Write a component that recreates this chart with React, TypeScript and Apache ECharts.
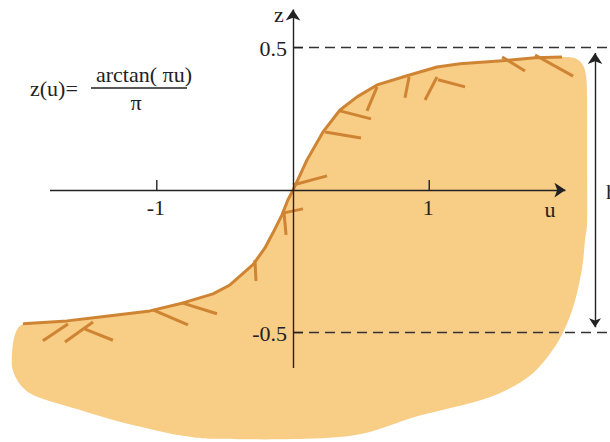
import React, { useEffect, useRef } from "react";
import * as echarts from "echarts";

// z(u) curve, hand-drawn profile (u, z)
const curveU = [-1.982, -1.659, -1.417, -1.05, -0.808, -0.587, -0.463, -0.294, -0.206, -0.147, -0.081, -0.037, 0, 0.103, 0.22, 0.345, 0.47, 0.617, 0.837, 1.057, 1.226, 1.535, 1.777, 1.975];
const curveZ = [-0.469, -0.459, -0.445, -0.424, -0.396, -0.364, -0.333, -0.262, -0.203, -0.15, -0.087, -0.034, 0, 0.106, 0.204, 0.281, 0.327, 0.369, 0.401, 0.432, 0.443, 0.454, 0.464, 0.467];

// outline of the shaded region below the curve (from the curve's right end, round to its left end)
const regionU = [2.063, 2.122, 2.151, 2.159, 2.159, 2.159, 2.144, 2.122, 2.07, 1.997, 1.902, 1.755, 1.557, 1.358, 1.065, 0.874, 0.507, 0.088, -0.558, -0.808, -1.05, -1.292, -1.542, -1.858, -1.982, -2.056, -2.063, -2.048, -2.019];
const regionZ = [0.464, 0.443, 0.401, 0.317, 0.106, -0.108, -0.175, -0.273, -0.389, -0.484, -0.564, -0.645, -0.704, -0.74, -0.775, -0.799, -0.855, -0.873, -0.873, -0.862, -0.838, -0.81, -0.775, -0.729, -0.694, -0.634, -0.575, -0.519, -0.484];

// hatch strokes under the curve: start and end points
const hatchStart = [[-1.836, -0.529], [-1.674, -0.533], [-1.527, -0.488], [-1.028, -0.42], [-0.815, -0.396], [-0.279, -0.245], [-0.066, -0.08], [-0.066, -0.08], [0, 0.018], [0.235, 0.204], [0.345, 0.278], [0.617, 0.362], [0.852, 0.397], [1.057, 0.397], [1.065, 0.387], [1.535, 0.467], [1.777, 0.474]];
const hatchEnd = [[-1.652, -0.47], [-1.468, -0.463], [-1.322, -0.527], [-0.771, -0.473], [-0.558, -0.434], [-0.272, -0.319], [-0.051, -0.157], [0.073, -0.066], [0.25, 0.05], [0.499, 0.183], [0.573, 0.25], [0.543, 0.278], [0.822, 0.324], [0.969, 0.316], [1.263, 0.362], [1.703, 0.418], [2.056, 0.4]];

const uTicks = [-1, 1];
const zTicks = [-0.5, 0.5];
const zLevels = [0.5, -0.5];

const uAxisFrom = -1.784;
const uAxisTo = 2.0;
const zAxisFrom = -0.624;
const zAxisTo = 0.634;
const dashEnd = 2.33;
const spanU = 2.217;
const spanZ = 0.481;

const INK = "#222222";
const CURVE = "#CF8433";
const FILL = "#F8CD86";
const SERIF = "Liberation Serif";
const FS = 22;

function catmullSegments(pts: number[][]): string {
  let d = "";
  for (let i = 0; i < pts.length - 1; i++) {
    const p0 = pts[Math.max(0, i - 1)];
    const p1 = pts[i];
    const p2 = pts[i + 1];
    const p3 = pts[Math.min(pts.length - 1, i + 2)];
    const c1x = p1[0] + (p2[0] - p0[0]) / 6;
    const c1y = p1[1] + (p2[1] - p0[1]) / 6;
    const c2x = p2[0] - (p3[0] - p1[0]) / 6;
    const c2y = p2[1] - (p3[1] - p1[1]) / 6;
    d += ` C${c1x},${c1y} ${c2x},${c2y} ${p2[0]},${p2[1]}`;
  }
  return d;
}

function textStyle(text: string, x: number, y: number, align: string) {
  return {
    text,
    x,
    y,
    fontFamily: SERIF,
    fontSize: FS,
    fill: INK,
    align,
    verticalAlign: "middle",
    textAlign: align,
    textVerticalAlign: "middle",
  };
}

function label(text: string, x: number, y: number, align: string) {
  return { type: "text", z: 10, style: textStyle(text, x, y, align) };
}

export default function App() {
  const ref = useRef<HTMLDivElement>(null);

  useEffect(() => {
    if (!ref.current) return;
    const chart = echarts.init(ref.current, null, { renderer: "svg" });

    const curveData = curveU.map((u, i) => [u, curveZ[i]]);

    const hiddenAxis = {
      type: "value",
      splitLine: { show: false },
      axisLine: { show: false },
      axisTick: { show: false },
      axisLabel: { show: false },
    };

    const option: any = {
      animation: false,
      grid: { left: 0, right: 0, top: 0, bottom: 0, containLabel: false, outerBoundsMode: "none" },
      xAxis: { ...hiddenAxis, min: -2.151, max: 2.327 },
      yAxis: { ...hiddenAxis, min: -0.884, max: 0.667 },
      series: [
        {
          // shaded region under the curve
          type: "custom",
          z: 1,
          silent: true,
          data: [[0, 0]],
          renderItem: (_params: any, api: any) => {
            const cp = curveData.map((p) => api.coord(p));
            const rp = regionU.map((u, i) => api.coord([u, regionZ[i]]));
            let d = `M${cp[0][0]},${cp[0][1]}`;
            for (let i = 1; i < cp.length; i++) d += ` L${cp[i][0]},${cp[i][1]}`;
            d += catmullSegments([cp[cp.length - 1], ...rp, cp[0]]);
            d += " Z";
            return {
              type: "path",
              shape: { pathData: d },
              style: { fill: FILL, stroke: null },
            };
          },
        },
        {
          // hatch strokes
          type: "lines",
          coordinateSystem: "cartesian2d",
          z: 3,
          silent: true,
          symbol: "none",
          lineStyle: { color: CURVE, width: 3, opacity: 1, cap: "butt" },
          data: hatchStart.map((s, i) => ({ coords: [s, hatchEnd[i]] })),
        },
        {
          // the curve
          type: "line",
          z: 4,
          silent: true,
          showSymbol: false,
          symbol: "none",
          smooth: false,
          lineStyle: { color: CURVE, width: 3, join: "round" },
          data: curveData,
        },
        {
          // u and z axes with arrow heads
          type: "lines",
          coordinateSystem: "cartesian2d",
          z: 5,
          silent: true,
          symbol: ["none", "arrow"],
          symbolSize: [9, 11],
          lineStyle: { color: INK, width: 1.4, opacity: 1 },
          data: [
            { coords: [[uAxisFrom, 0], [uAxisTo, 0]] },
            { coords: [[0, zAxisFrom], [0, zAxisTo]] },
          ],
        },
        {
          // dashed levels z = ±0.5
          type: "lines",
          coordinateSystem: "cartesian2d",
          z: 5,
          silent: true,
          symbol: "none",
          lineStyle: { color: "#333333", width: 1.4, type: [10, 6], opacity: 1 },
          data: zLevels.map((v) => ({ coords: [[0, v], [dashEnd, v]] })),
        },
        {
          // span arrow between the two levels
          type: "lines",
          coordinateSystem: "cartesian2d",
          z: 5,
          silent: true,
          symbol: ["arrow", "arrow"],
          symbolSize: [9, 11],
          lineStyle: { color: INK, width: 1.4, opacity: 1 },
          data: [{ coords: [[spanU, -spanZ], [spanU, spanZ]] }],
        },
        {
          // u-axis ticks and labels
          type: "custom",
          z: 6,
          silent: true,
          data: uTicks.map((t) => [t, 0]),
          renderItem: (params: any, api: any) => {
            const t = uTicks[params.dataIndex];
            const [x, y] = api.coord([t, 0]);
            return {
              type: "group",
              children: [
                { type: "line", shape: { x1: x, y1: y - 10, x2: x, y2: y }, style: { stroke: INK, lineWidth: 1.4 } },
                { type: "text", style: textStyle(String(t), x - 1, y + 17, "center") },
              ],
            };
          },
        },
        {
          // z-axis ticks and labels
          type: "custom",
          z: 6,
          silent: true,
          data: zTicks.map((t) => [0, t]),
          renderItem: (params: any, api: any) => {
            const t = zTicks[params.dataIndex];
            const [x, y] = api.coord([0, t]);
            return {
              type: "group",
              children: [
                { type: "line", shape: { x1: x, y1: y, x2: x + 10, y2: y }, style: { stroke: INK, lineWidth: 1.4 } },
                { type: "text", style: textStyle(String(t), x - 6, y + 1, "right") },
              ],
            };
          },
        },
      ],
      graphic: [
        label("z", 279, 14, "center"),
        label("u", 550, 209, "center"),
        label("h", 606, 191, "left"),
        label("z(u)=", 30, 88, "left"),
        label("arctan( \u03c0u)", 144, 74, "center"),
        {
          type: "line",
          z: 10,
          shape: { x1: 91, y1: 88, x2: 187, y2: 88 },
          style: { stroke: INK, lineWidth: 1.4 },
        },
        label("\u03c0", 136, 102, "center"),
      ],
    };

    chart.setOption(option);
    return () => chart.dispose();
  }, []);

  return (
    <div
      ref={ref}
      style={{ position: "absolute", left: 0, top: 0, width: 610, height: 442, background: "#ffffff" }}
    />
  );
}
